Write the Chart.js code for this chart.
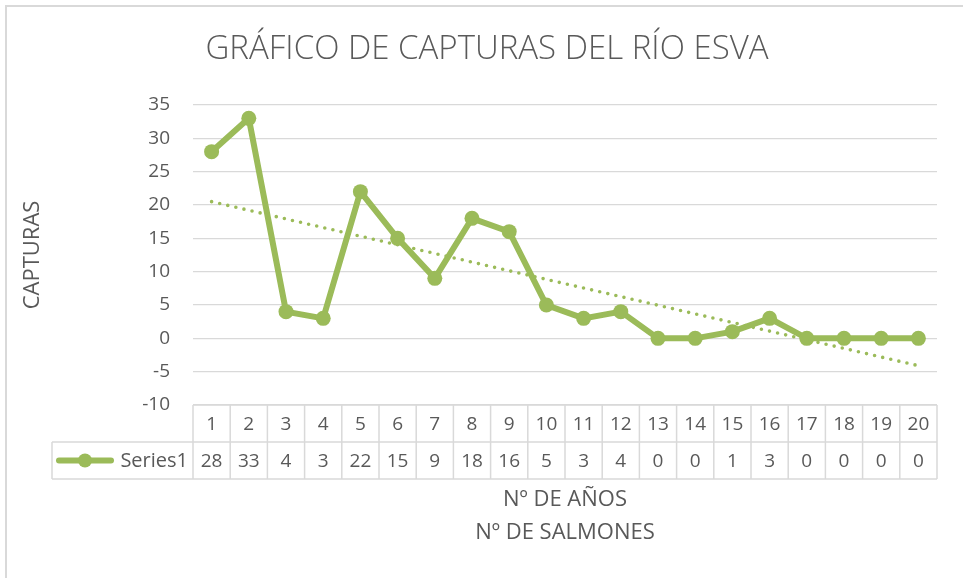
<!DOCTYPE html>
<html>
<head>
<meta charset="utf-8">
<title>Gráfico de capturas del río Esva</title>
<script src="https://cdn.jsdelivr.net/npm/chart.js@4.4.1/dist/chart.umd.min.js"></script>
<style>
  html, body { margin: 0; padding: 0; background: #fff; }
  #wrap { position: relative; width: 963px; height: 578px; }
</style>
</head>
<body>
<div id="wrap"><canvas id="lineChart" width="963" height="578"></canvas></div>
<script>
// Datos
var anios = ['1', '2', '3', '4', '5', '6', '7', '8', '9', '10',
  '11', '12', '13', '14', '15', '16', '17', '18', '19', '20'];
var capturas = [28, 33, 4, 3, 22, 15, 9, 18, 16, 5, 3, 4, 0, 0, 1, 3, 0, 0, 0, 0];
// Linea de tendencia: valor en el primer y en el ultimo año
var tendencia = [20.5, -4.1];
var nombreSerie = 'Series1';
var titulo = 'GRÁFICO DE CAPTURAS DEL RÍO ESVA';

var verde = '#9BBB59';
var gris = '#595959';
var lineaGris = '#d9d9d9';
var fuente = "'Open Sans', 'Noto Sans', sans-serif";

// tendencia solo en los extremos, el resto vacio
var datosTendencia = anios.map(function (a, i) {
  if (i === 0) return tendencia[0];
  if (i === anios.length - 1) return tendencia[1];
  return null;
});

// Marco exterior y titulo del grafico
var marco = {
  id: 'marco',
  beforeDraw: function (chart) {
    var ctx = chart.ctx;
    ctx.save();
    ctx.fillStyle = '#fff';
    ctx.fillRect(0, 0, chart.width, chart.height);
    ctx.strokeStyle = lineaGris;
    ctx.lineWidth = 2;
    ctx.beginPath();
    ctx.moveTo(6, chart.height + 2);
    ctx.lineTo(6, 6);
    ctx.lineTo(chart.width + 2, 6);
    ctx.stroke();

    ctx.fillStyle = gris;
    ctx.font = '300 33px ' + fuente;
    ctx.textAlign = 'center';
    ctx.textBaseline = 'middle';
    ctx.fillText(titulo, 487, 50);
    ctx.restore();
  }
};

// Tabla de datos bajo el eje X
var tablaDatos = {
  id: 'tablaDatos',
  afterDraw: function (chart) {
    var ctx = chart.ctx;
    var x = chart.scales.x;
    var area = chart.chartArea;
    var alto = 37;
    var top = area.bottom;
    var izq = area.left;
    var der = area.right;
    var ancho = (der - izq) / anios.length;
    var celdaLeyenda = 52;

    ctx.save();
    ctx.strokeStyle = lineaGris;
    ctx.lineWidth = 1.5;
    ctx.beginPath();
    // lineas horizontales
    ctx.moveTo(izq, top); ctx.lineTo(der, top);
    ctx.moveTo(celdaLeyenda, top + alto); ctx.lineTo(der, top + alto);
    ctx.moveTo(celdaLeyenda, top + 2 * alto); ctx.lineTo(der, top + 2 * alto);
    // lineas verticales
    ctx.moveTo(celdaLeyenda, top + alto); ctx.lineTo(celdaLeyenda, top + 2 * alto);
    for (var i = 0; i <= anios.length; i++) {
      var xx = izq + i * ancho;
      ctx.moveTo(xx, top); ctx.lineTo(xx, top + 2 * alto);
    }
    ctx.stroke();

    ctx.fillStyle = gris;
    ctx.font = '19px ' + fuente;
    ctx.textAlign = 'center';
    ctx.textBaseline = 'middle';
    for (var j = 0; j < anios.length; j++) {
      var cx = x.getPixelForValue(j);
      ctx.fillText(anios[j], cx, top + alto / 2 + 1);
      ctx.fillText(String(capturas[j]), cx, top + alto * 1.5 + 1);
    }

    // clave de la leyenda
    var ly = top + alto * 1.5;
    ctx.strokeStyle = verde;
    ctx.lineWidth = 6;
    ctx.lineCap = 'round';
    ctx.beginPath();
    ctx.moveTo(59, ly); ctx.lineTo(111, ly);
    ctx.stroke();
    ctx.fillStyle = verde;
    ctx.beginPath();
    ctx.arc(85, ly, 7, 0, Math.PI * 2);
    ctx.fill();
    ctx.fillStyle = gris;
    ctx.font = '20px ' + fuente;
    ctx.textAlign = 'right';
    ctx.fillText(nombreSerie, izq - 5, ly + 1);
    ctx.restore();
  }
};

var ctxGrafico = document.getElementById('lineChart').getContext('2d');

new Chart(ctxGrafico, {
  type: 'line',
  data: {
    labels: anios,
    datasets: [
      {
        label: 'Tendencia',
        data: datosTendencia,
        spanGaps: true,
        borderColor: verde,
        borderWidth: 3.6,
        borderDash: [0, 8.3],
        borderCapStyle: 'round',
        pointRadius: 0,
        fill: false,
        order: 0
      },
      {
        label: nombreSerie,
        data: capturas,
        borderColor: verde,
        backgroundColor: verde,
        borderWidth: 6,
        pointRadius: 7.5,
        pointBackgroundColor: verde,
        pointBorderWidth: 0,
        tension: 0,
        fill: false,
        order: 1
      }
    ]
  },
  options: {
    responsive: false,
    animation: false,
    layout: { padding: { left: 0, right: 26, top: 105, bottom: 0 } },
    plugins: {
      legend: { display: false },
      tooltip: { enabled: false },
      title: { display: false }
    },
    scales: {
      x: {
        offset: true,
        grid: { display: false, drawTicks: false },
        border: { display: false },
        ticks: { display: false },
        title: {
          display: true,
          text: ['Nº DE AÑOS', 'Nº DE SALMONES'],
          color: gris,
          font: { family: fuente, size: 22, lineHeight: 1.5 },
          padding: { top: 78, bottom: 29 }
        },
        afterFit: function (scale) { scale.height = 173; }
      },
      y: {
        min: -10,
        max: 35,
        ticks: {
          stepSize: 5,
          color: gris,
          padding: 23,
          font: { family: fuente, size: 19 }
        },
        grid: { color: lineaGris, lineWidth: 1.3, drawTicks: false },
        border: { display: false },
        title: {
          display: true,
          text: 'CAPTURAS',
          color: gris,
          font: { family: fuente, size: 22, lineHeight: 1.2 },
          padding: { top: 20, bottom: 0 }
        },
        afterFit: function (scale) { scale.width = 193; }
      }
    }
  },
  plugins: [marco, tablaDatos]
});
</script>
</body>
</html>
